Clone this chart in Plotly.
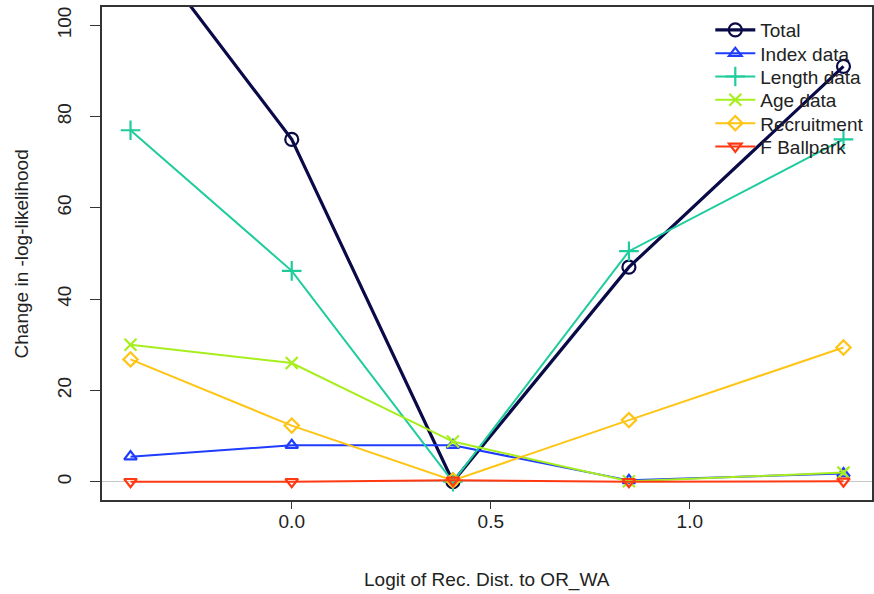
import numpy as np
import plotly.graph_objects as go

# Logit of recruitment distribution proportion (0.4 .. 0.8)
x_vals = [-0.405, 0.0, 0.405, 0.847, 1.386]

series_names = ["Total", "Index data", "Length data", "Age data", "Recruitment", "F Ballpark"]
total = [121.5, 75.0, 0.0, 47.0, 91.0]
index_data = [5.5, 8.0, 8.0, 0.3, 1.8]
length_data = [77.0, 46.2, 0.0, 50.5, 75.0]
age_data = [30.0, 26.0, 8.8, 0.1, 2.0]
recruitment = [26.8, 12.3, 0.3, 13.5, 29.4]
f_ballpark = [0.0, 0.0, 0.3, 0.0, 0.1]

y_ticks = [0, 20, 40, 60, 80, 100]
x_ticks = [0.0, 0.5, 1.0]
x_tick_labels = ["0.0", "0.5", "1.0"]

series_values = [total, index_data, length_data, age_data, recruitment, f_ballpark]
colors = ["#0a0a48", "#1f3cff", "#1fcc9c", "#a6ee1c", "#ffc414", "#ff3a12"]
symbols = ["circle-open", "triangle-up-open", "cross-thin-open", "x-thin-open",
           "diamond-open", "triangle-down-open"]
sizes = [13, 11, 14, 12, 11, 11]
widths = [3.2, 2, 2, 2, 2, 2]

font_family = "Liberation Sans, Arial, sans-serif"
fs = 19

fig = go.Figure()
legend_layout = {}
for i, (name, vals, c, s, sz, w) in enumerate(
        zip(series_names, series_values, colors, symbols, sizes, widths)):
    lg = "legend" if i == 0 else f"legend{i + 1}"
    fig.add_trace(go.Scatter(
        x=x_vals, y=vals, name=name, mode="lines+markers", legend=lg,
        line=dict(color=c, width=w),
        marker=dict(symbol=s, size=sz, color=c, line=dict(color=c, width=2.2)),
    ))
    legend_layout[lg] = dict(
        x=0.79, y=0.9533 - i * 0.0473, xanchor="left", yanchor="middle",
        bgcolor="rgba(0,0,0,0)", borderwidth=0,
        font=dict(size=fs, color="#222222"), itemwidth=40)

xmin, xmax = min(x_vals), max(x_vals)
pad = 0.04 * (xmax - xmin)

fig.update_layout(
    width=874, height=594,
    margin=dict(l=102, r=2, t=7, b=94, autoexpand=False),
    paper_bgcolor="white", plot_bgcolor="white",
    font=dict(family=font_family, size=fs, color="#222222"),
    showlegend=True,
    xaxis=dict(range=[xmin - pad, xmax + pad], tickvals=x_ticks, ticktext=x_tick_labels,
               ticks="outside", ticklen=7, tickwidth=1.2, tickcolor="#333333",
               ticklabelstandoff=-4,
               showline=True, linecolor="#333333", linewidth=1.5, mirror=True,
               showgrid=False, zeroline=False, tickfont=dict(size=fs), automargin=False),
    yaxis=dict(range=[-4, 104], tickvals=y_ticks, tickangle=-90,
               ticks="outside", ticklen=10, tickwidth=1.2, tickcolor="#333333",
               ticklabelstandoff=12,
               showline=True, linecolor="#333333", linewidth=1.5, mirror=True,
               showgrid=False, zeroline=True, zerolinecolor="#c8c8c8", zerolinewidth=1.2,
               tickfont=dict(size=fs), automargin=False),
    annotations=[
        dict(text="Logit of Rec. Dist. to OR_WA", xref="paper", yref="paper",
             x=0.5, y=-0.162, yanchor="middle", showarrow=False,
             font=dict(size=fs, color="#222222")),
        dict(text="Change in -log-likelihood", xref="paper", yref="paper",
             x=-0.104, y=0.5, xanchor="center", yanchor="middle", textangle=-90,
             showarrow=False, font=dict(size=fs, color="#222222")),
    ],
    **legend_layout,
)

fig.write_html("out.html", config={"displayModeBar": False},
               post_script="document.body.style.margin='0px';")
